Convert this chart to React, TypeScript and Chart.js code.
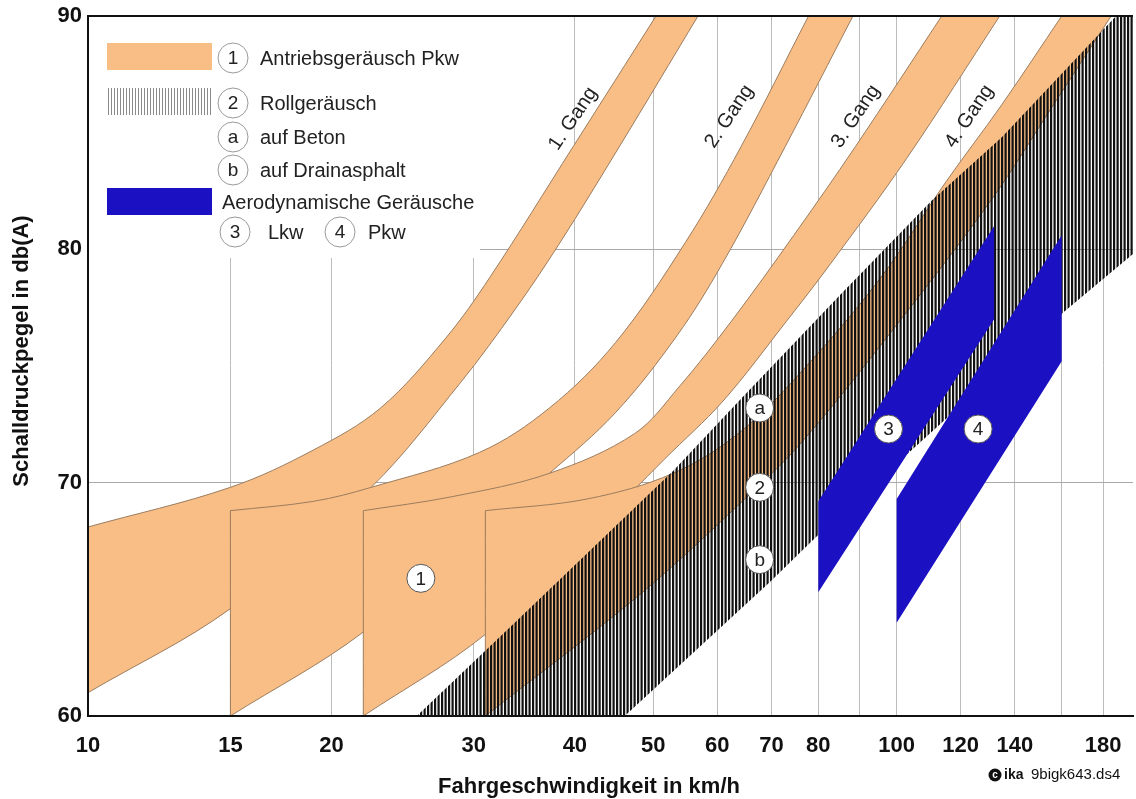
import React, { useEffect, useRef } from 'react';
import { Chart, registerables } from 'chart.js';

Chart.register(...registerables);

const FONT = "'Liberation Sans', Arial, Helvetica, sans-serif";

// ---- axes ----
const speedMin = 10;
const speedMax = 196;
const speedGrid = [10, 15, 20, 30, 40, 50, 60, 70, 80, 90, 100, 120, 140, 160, 180];
const speedTickLabels = [10, 15, 20, 30, 40, 50, 60, 70, 80, 100, 120, 140, 180];
const levelMin = 60;
const levelMax = 90;
const levelTicks = [60, 70, 80, 90];

type Pt = [number, number]; // [km/h, dB(A)]

// ---- (1) Antriebsgeräusch Pkw, one band per gear ----
const gear1Upper: Pt[] = [[10, 68.1], [15, 69.8], [19.0, 71.4], [23.0, 73.2], [27.7, 76.2], [31.4, 78.8], [39.8, 84.4], [50.4, 90]];
const gear1Lower: Pt[] = [[10, 61.0], [15, 64.6], [22.4, 69.8], [28.9, 74.3], [33.7, 77.4], [38.2, 80.2], [45.4, 84.4], [56.8, 90]];
const gear2Upper: Pt[] = [[15, 68.8], [19.0, 69.2], [22.4, 69.8], [30.5, 71.3], [37.2, 73.2], [44.9, 76.0], [54.8, 80.3], [64.2, 84.4], [77.8, 90]];
const gear2Lower: Pt[] = [[15, 60], [21.9, 63.6], [37.2, 70.4], [44.9, 73.0], [53.5, 76.3], [60.9, 79.4], [72.8, 84.4], [88.3, 90]];
const gear3Upper: Pt[] = [[21.9, 68.8], [28.2, 69.4], [37.2, 70.4], [47.4, 72.1], [53.8, 74.1], [62.4, 76.9], [74.6, 80.6], [88.9, 84.4], [113.7, 90]];
const gear3Lower: Pt[] = [[21.9, 60], [31.0, 63.5], [42.6, 68.1], [51.6, 71.0], [61.0, 73.5], [73.0, 76.9], [82.5, 79.3], [102.9, 83.9], [134.1, 90]];
const gear4Upper: Pt[] = [[31.0, 68.8], [41.4, 69.3], [52.9, 70.4], [64.2, 72.2], [78.3, 75.2], [96.1, 78.9], [115.1, 82.9], [134.9, 86.2], [160, 90]];
const gear4Lower: Pt[] = [[31.0, 60], [48.1, 65.2], [64.9, 69.3], [75.7, 71.6], [96.1, 76.0], [130.8, 82.1], [156.3, 86.2], [184.2, 90]];

// ---- (2) Rollgeräusch: a = auf Beton (top), b = auf Drainasphalt (bottom) ----
const rollBeton: Pt[] = [[25.5, 60], [33.7, 64.0], [52.9, 70.5], [64.2, 73.6], [85.4, 78.1], [110.6, 82.1], [134.9, 84.8], [186.8, 90], [196, 90]];
const rollDrain: Pt[] = [[46.1, 60], [69.5, 65.7], [80.2, 67.8], [160.8, 77.3], [196, 79.8]];

// ---- Aerodynamische Geräusche: (3) Lkw, (4) Pkw ----
const lkwAeroUpper: Pt[] = [[80, 69.2], [132, 81.0]];
const lkwAeroLower: Pt[] = [[80, 65.3], [132, 77.0]];
const pkwAeroUpper: Pt[] = [[100, 69.3], [160, 80.6]];
const pkwAeroLower: Pt[] = [[100, 64.0], [160, 75.2]];

// ---- circled markers and gear captions ----
const markerText = ['1', '2', 'a', 'b', '3', '4'];
const markerSpeed = [25.8, 67.7, 67.7, 67.7, 97.7, 126.1];
const markerLevel = [65.9, 69.8, 73.2, 66.7, 72.3, 72.3];
const gearNames = ['1. Gang', '2. Gang', '3. Gang', '4. Gang'];
const gearNameSpeed = [39.8, 62.1, 89.0, 123.0];
const gearNameLevel = [85.6, 85.7, 85.7, 85.7];

const ORANGE = '#F9BE86';
const BAND_EDGE = '#9b7c5e';
const BLUE = '#1B10C2';

const toPoints = (pts: Pt[]) => pts.map(([x, y]) => ({ x, y }));
// plain closed outline (straight edges)
const outline = (upper: Pt[], lower: Pt[]) => toPoints([...upper, ...lower.slice().reverse(), upper[0]]);
// closed outline for smoothed bands: corner points are repeated so the
// spline keeps them sharp while the curved edges stay smooth
const bandOutline = (upper: Pt[], lower: Pt[]) => {
  const rev = lower.slice().reverse();
  return toPoints([
    ...upper,
    upper[upper.length - 1],
    rev[0],
    ...rev,
    rev[rev.length - 1],
    upper[0],
  ]);
};

function stripes(period: number, line: number, color: string) {
  const c = document.createElement('canvas');
  c.width = period * 2;
  c.height = 8;
  const g = c.getContext('2d')!;
  g.fillStyle = color;
  g.fillRect(0, 0, line, 8);
  g.fillRect(period, 0, line, 8);
  return g.createPattern(c, 'repeat')!;
}

function circleLabel(ctx: CanvasRenderingContext2D, x: number, y: number, r: number, t: string, stroke: string) {
  ctx.beginPath();
  ctx.arc(x, y, r, 0, Math.PI * 2);
  ctx.fillStyle = '#fff';
  ctx.fill();
  ctx.lineWidth = 1;
  ctx.strokeStyle = stroke;
  ctx.stroke();
  ctx.fillStyle = '#222';
  ctx.font = `19px ${FONT}`;
  ctx.textAlign = 'center';
  ctx.textBaseline = 'middle';
  ctx.fillText(t, x, y + 1);
}

export default function App() {
  const ref = useRef<HTMLCanvasElement>(null);

  useEffect(() => {
    if (!ref.current) return;
    const rollPattern = stripes(3.5, 2.2, '#111111');
    const legendPattern = stripes(3, 1, '#8a8a8a');

    const decor = {
      id: 'decor',
      beforeDatasetsDraw(chart: any) {
        const { ctx, chartArea: a } = chart;
        ctx.save();
        ctx.fillStyle = '#fff';
        ctx.fillRect(a.left + 1, a.top + 1, 391, 241);
        ctx.restore();
      },
      afterDatasetsDraw(chart: any) {
        const { ctx, chartArea: a, scales } = chart;
        const xs = scales.x;
        const ys = scales.y;
        ctx.save();
        ctx.fillStyle = '#222';
        ctx.font = `19px ${FONT}`;
        ctx.textAlign = 'center';
        ctx.textBaseline = 'middle';
        markerText.forEach((t, i) => {
          ctx.fillText(t, xs.getPixelForValue(markerSpeed[i]), ys.getPixelForValue(markerLevel[i]) + 1);
        });
        ctx.font = `20px ${FONT}`;
        gearNames.forEach((t, i) => {
          ctx.save();
          ctx.translate(xs.getPixelForValue(gearNameSpeed[i]), ys.getPixelForValue(gearNameLevel[i]));
          ctx.rotate((-56 * Math.PI) / 180);
          ctx.fillText(t, 0, 0);
          ctx.restore();
        });
        // legend
        const L = a.left;
        const T = a.top;
        ctx.fillStyle = ORANGE;
        ctx.fillRect(L + 19, T + 27, 105, 27);
        ctx.fillStyle = legendPattern;
        ctx.fillRect(L + 18, T + 72, 106, 27);
        ctx.fillStyle = BLUE;
        ctx.fillRect(L + 19, T + 172, 105, 27);
        const cs = '#9a9a9a';
        circleLabel(ctx, L + 145, T + 42, 15, '1', cs);
        circleLabel(ctx, L + 145, T + 87, 15, '2', cs);
        circleLabel(ctx, L + 145, T + 121, 15, 'a', cs);
        circleLabel(ctx, L + 145, T + 154, 15, 'b', cs);
        circleLabel(ctx, L + 147, T + 216, 15, '3', cs);
        circleLabel(ctx, L + 252, T + 216, 15, '4', cs);
        ctx.fillStyle = '#222';
        ctx.font = `20px ${FONT}`;
        ctx.textAlign = 'left';
        ctx.textBaseline = 'middle';
        ctx.fillText('Antriebsgeräusch Pkw', L + 172, T + 43);
        ctx.fillText('Rollgeräusch', L + 172, T + 88);
        ctx.fillText('auf Beton', L + 172, T + 122);
        ctx.fillText('auf Drainasphalt', L + 172, T + 155);
        ctx.fillText('Aerodynamische Geräusche', L + 134, T + 187);
        ctx.fillText('Lkw', L + 180, T + 217);
        ctx.fillText('Pkw', L + 280, T + 217);
        ctx.restore();
      },
      afterDraw(chart: any) {
        const { ctx, chartArea: a } = chart;
        ctx.save();
        ctx.strokeStyle = '#111';
        ctx.lineWidth = 2;
        ctx.beginPath();
        ctx.moveTo(a.left, a.top);
        ctx.lineTo(a.right, a.top);
        ctx.stroke();
        ctx.fillStyle = '#111';
        ctx.font = `bold 22px ${FONT}`;
        ctx.textAlign = 'center';
        ctx.textBaseline = 'middle';
        ctx.fillText('Fahrgeschwindigkeit in km/h', 589, 787);
        ctx.save();
        ctx.translate(22, 351);
        ctx.rotate(-Math.PI / 2);
        ctx.fillText('Schalldruckpegel in db(A)', 0, 0);
        ctx.restore();
        ctx.beginPath();
        ctx.arc(995, 775, 6.5, 0, Math.PI * 2);
        ctx.fillStyle = '#111';
        ctx.fill();
        ctx.fillStyle = '#fff';
        ctx.font = `bold 10px ${FONT}`;
        ctx.fillText('c', 995, 775);
        ctx.fillStyle = '#111';
        ctx.textAlign = 'left';
        ctx.font = `bold 14px ${FONT}`;
        ctx.fillText('ika', 1004, 775);
        ctx.font = `15px ${FONT}`;
        ctx.fillText('9bigk643.ds4', 1031, 775);
        ctx.restore();
      },
    };

    const poly = (data: any, color: any, order: number, edge: boolean, tension: number) => ({
      data,
      fill: 'shape',
      backgroundColor: color,
      borderColor: edge ? BAND_EDGE : 'rgba(0,0,0,0)',
      borderWidth: edge ? 1 : 0,
      pointRadius: 0,
      pointHoverRadius: 0,
      tension,
      order,
    });

    const chart = new Chart(ref.current, {
      type: 'line',
      data: {
        datasets: [
          {
            label: 'Marker',
            data: markerSpeed.map((x, i) => ({ x, y: markerLevel[i] })),
            showLine: false,
            pointRadius: 14,
            pointHoverRadius: 14,
            pointBackgroundColor: '#fff',
            pointBorderColor: '#555',
            pointBorderWidth: 1,
            order: 0,
          },
          { label: 'Pkw aero', ...poly(outline(pkwAeroUpper, pkwAeroLower), BLUE, 1, false, 0) },
          { label: 'Lkw aero', ...poly(outline(lkwAeroUpper, lkwAeroLower), BLUE, 2, false, 0) },
          { label: 'Rollgeräusch', ...poly(outline(rollBeton, rollDrain), rollPattern, 3, false, 0) },
          { label: '4. Gang', ...poly(bandOutline(gear4Upper, gear4Lower), ORANGE, 4, true, 0.35) },
          { label: '3. Gang', ...poly(bandOutline(gear3Upper, gear3Lower), ORANGE, 5, true, 0.35) },
          { label: '2. Gang', ...poly(bandOutline(gear2Upper, gear2Lower), ORANGE, 6, true, 0.35) },
          { label: '1. Gang', ...poly(bandOutline(gear1Upper, gear1Lower), ORANGE, 7, true, 0.35) },
        ] as any,
      },
      options: {
        animation: false,
        responsive: true,
        maintainAspectRatio: false,
        devicePixelRatio: 1,
        events: [],
        layout: { autoPadding: false, padding: { top: 16, right: 3, left: 0, bottom: 0 } },
        plugins: { legend: { display: false }, tooltip: { enabled: false } },
        scales: {
          x: {
            type: 'logarithmic',
            min: speedMin,
            max: speedMax,
            afterBuildTicks: (s: any) => {
              s.ticks = speedGrid.map((v) => ({ value: v }));
            },
            afterFit: (s: any) => {
              s.height = 83;
              s.paddingLeft = 0;
              s.paddingRight = 0;
            },
            ticks: {
              autoSkip: false,
              maxRotation: 0,
              minRotation: 0,
              padding: 17,
              color: '#111',
              font: { family: FONT, size: 22, weight: 'bold' },
              callback: (v: any) => (speedTickLabels.includes(Number(v)) ? String(v) : ''),
            },
            grid: { color: '#bcbcbc', lineWidth: 1, drawTicks: false },
            border: { color: '#111', width: 2, z: 1 },
          },
          y: {
            type: 'linear',
            min: levelMin,
            max: levelMax,
            afterBuildTicks: (s: any) => {
              s.ticks = levelTicks.map((v) => ({ value: v }));
            },
            afterFit: (s: any) => {
              s.width = 88;
              s.paddingTop = 0;
              s.paddingBottom = 0;
            },
            ticks: {
              padding: 6,
              color: '#111',
              font: { family: FONT, size: 22, weight: 'bold' },
            },
            grid: { color: '#a9a9a9', lineWidth: 1, drawTicks: false },
            border: { color: '#111', width: 2, z: 1 },
          },
        },
      } as any,
      plugins: [decor],
    });
    return () => chart.destroy();
  }, []);

  return (
    <div style={{ position: 'absolute', left: 0, top: 0, width: 1136, height: 799, background: '#fff' }}>
      <canvas ref={ref} style={{ display: 'block' }} />
    </div>
  );
}
